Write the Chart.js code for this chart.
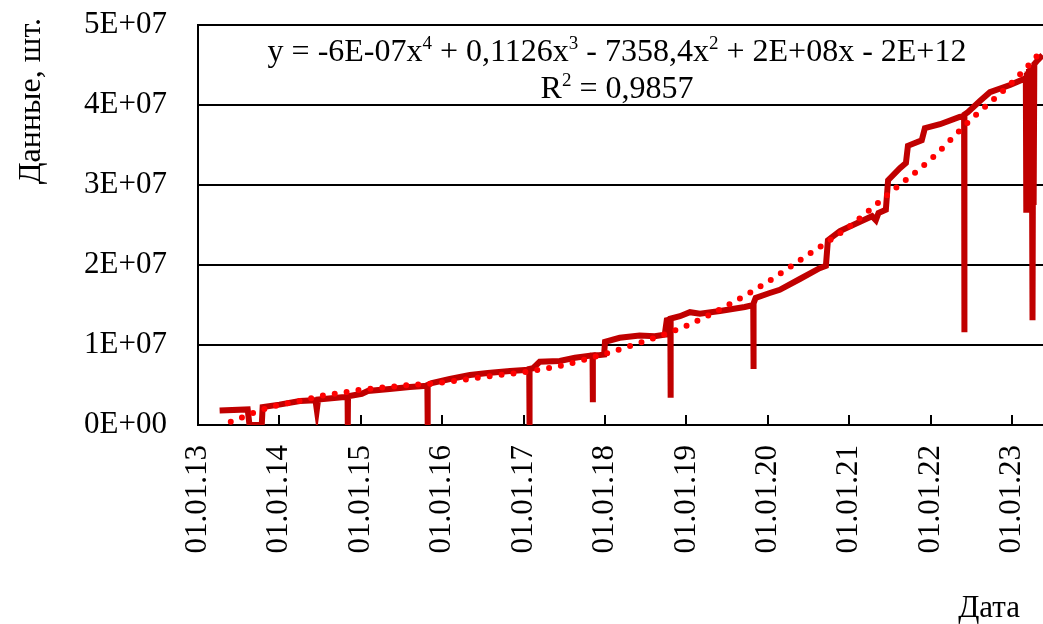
<!DOCTYPE html>
<html>
<head>
<meta charset="utf-8">
<script src="https://cdn.jsdelivr.net/npm/chart.js@4"></script>
<style>
html,body{margin:0;padding:0;background:#fff;}
#wrap{width:1043px;height:624px;position:relative;}
</style>
</head>
<body>
<div id="wrap"><canvas id="c" width="1043" height="624"></canvas></div>
<script>
// ---- data ----
const dates = [
 '2013-04-08','2013-08-12','2013-08-20','2013-10-14','2013-10-18','2014-01-01','2014-04-03','2014-06-12','2014-06-18','2014-06-24',
 '2014-10-21','2014-11-03','2014-11-04','2014-11-05','2015-01-06','2015-02-02','2015-05-11','2015-08-09','2015-10-27','2015-10-28',
 '2015-10-29','2015-11-16','2016-02-05','2016-05-05','2016-07-24','2016-11-01','2017-01-26','2017-01-27','2017-01-28','2017-02-12',
 '2017-03-14','2017-06-12','2017-08-19','2017-11-06','2017-11-07','2017-11-08','2017-12-09','2017-12-28','2018-01-01','2018-03-08',
 '2018-06-05','2018-08-12','2018-09-26','2018-10-05','2018-10-21','2018-10-22','2018-10-23','2018-12-03','2019-01-17','2019-03-03',
 '2019-06-01','2019-09-20','2019-10-28','2019-10-29','2019-10-30','2019-11-08','2020-01-10','2020-02-24','2020-05-24','2020-08-21',
 '2020-09-18','2020-09-27','2020-11-20','2021-02-18','2021-04-13','2021-04-30','2021-05-12','2021-06-14','2021-06-24','2021-08-16',
 '2021-09-12','2021-09-21','2021-11-22','2021-12-06','2022-02-12','2022-05-11','2022-05-31','2022-06-01','2022-06-02','2022-06-17',
 '2022-08-10','2022-09-24','2022-12-23','2023-02-23','2023-03-04','2023-03-06','2023-03-08','2023-03-10','2023-03-12','2023-03-15',
 '2023-03-18','2023-03-21','2023-03-24','2023-03-27','2023-03-30','2023-04-03','2023-04-06','2023-04-08','2023-04-11','2023-04-26',
 '2023-05-18'
];
const values = [
 1.80e6,1.95e6,0,0,2.25e6,2.55e6,3.00e6,3.10e6,1.90e6,3.20e6,
 3.50e6,3.55e6,0,3.60e6,3.90e6,4.25e6,4.50e6,4.75e6,4.90e6,0,
 5.00e6,5.25e6,5.75e6,6.25e6,6.50e6,6.75e6,6.90e6,0,7.00e6,7.10e6,
 7.90e6,8.00e6,8.40e6,8.70e6,2.85e6,8.70e6,8.75e6,8.80e6,10.40e6,10.90e6,
 11.20e6,11.10e6,11.30e6,13.10e6,13.20e6,3.40e6,13.30e6,13.60e6,14.10e6,13.90e6,
 14.25e6,14.75e6,15.00e6,7.00e6,15.20e6,15.90e6,16.50e6,16.90e6,18.25e6,19.60e6,
 19.90e6,23.10e6,24.25e6,25.40e6,26.10e6,25.60e6,26.50e6,26.90e6,30.60e6,32.10e6,
 32.75e6,34.90e6,35.60e6,37.10e6,37.60e6,38.50e6,38.60e6,11.60e6,38.80e6,39.10e6,
 40.50e6,41.60e6,42.50e6,43.25e6,43.40e6,26.90e6,44.00e6,26.90e6,44.20e6,26.90e6,
 44.50e6,26.90e6,44.70e6,26.90e6,44.90e6,13.10e6,45.00e6,27.50e6,45.10e6,45.60e6,
 46.25e6
];
const trendDates = [
 '2013-05-28','2013-07-22','2013-09-04','2013-10-25','2014-01-01','2014-04-01','2014-07-01','2014-10-01','2015-01-01','2015-07-01',
 '2016-01-01','2016-07-01','2017-01-01','2017-07-01','2018-01-01','2018-07-01','2019-01-01','2019-07-01','2020-01-01','2020-07-01',
 '2021-01-01','2021-07-01','2022-01-01','2022-07-01','2023-01-01','2023-05-19'
];
const trendValues = [
 0.4e6,1.0e6,1.5e6,2.0e6,2.5e6,3.0e6,3.6e6,4.0e6,4.4e6,4.9e6,
 5.3e6,6.0e6,6.6e6,7.5e6,8.9e6,10.5e6,12.4e6,14.9e6,17.9e6,21.3e6,
 24.8e6,29.0e6,33.2e6,38.2e6,42.8e6,46.9e6
];
const xTickDates = ['2013-01-01','2014-01-01','2015-01-01','2016-01-01','2017-01-01','2018-01-01',
                    '2019-01-01','2020-01-01','2021-01-01','2022-01-01','2023-01-01'];
const xMin = '2013-01-01', xMax = '2023-05-20';
const yTicks = [0, 1e7, 2e7, 3e7, 4e7, 5e7];
const yTitle = 'Данные, шт.';
const xTitle = 'Дата';
const eqParts = [['y = -6E-07x',false],['4',true],[' + 0,1126x',false],['3',true],[' - 7358,4x',false],['2',true],[' + 2E+08x - 2E+12',false]];
const r2Parts = [['R',false],['2',true],[' = 0,9857',false]];

// ---- helpers ----
const ts = d => Date.parse(d + 'T00:00:00Z');
const FONT = '"Liberation Serif","Times New Roman",serif';
function fmtY(v){
  if (v === 0) return '0E+00';
  const e = Math.floor(Math.log10(v));
  const m = Math.round(v / Math.pow(10, e));
  return m + 'E+' + String(e).padStart(2,'0');
}
function fmtX(v){
  const d = new Date(v);
  const dd = String(d.getUTCDate()).padStart(2,'0');
  const mm = String(d.getUTCMonth()+1).padStart(2,'0');
  const yy = String(d.getUTCFullYear()).slice(2);
  return dd + '.' + mm + '.' + yy;
}
function drawParts(ctx, parts, cx, baseline, size){
  const small = Math.round(size*0.6);
  let w = 0;
  parts.forEach(([t,sup]) => { ctx.font = (sup?small:size)+'px '+FONT; w += ctx.measureText(t).width; });
  let x = cx - w/2;
  ctx.textAlign = 'left'; ctx.textBaseline = 'alphabetic';
  parts.forEach(([t,sup]) => {
    ctx.font = (sup?small:size)+'px '+FONT;
    ctx.fillText(t, x, sup ? baseline - size*0.36 : baseline);
    x += ctx.measureText(t).width;
  });
}

const decor = {
  id:'decor',
  afterDraw(chart){
    const ctx = chart.ctx, xs = chart.scales.x, area = chart.chartArea;
    ctx.save();
    ctx.strokeStyle = '#000'; ctx.lineWidth = 2;
    xTickDates.forEach(d => {
      const px = Math.round(xs.getPixelForValue(ts(d)));
      if (px <= area.left + 1) return;
      ctx.beginPath(); ctx.moveTo(px, area.bottom); ctx.lineTo(px, area.bottom - 10); ctx.stroke();
    });
    ctx.fillStyle = '#000';
    drawParts(ctx, eqParts, 617, 61, 32);
    drawParts(ctx, r2Parts, 617, 98, 32);
    ctx.font = '32px ' + FONT;
    ctx.save();
    ctx.translate(40, 18);
    ctx.rotate(-Math.PI/2);
    ctx.textAlign = 'right'; ctx.textBaseline = 'alphabetic';
    ctx.fillText(yTitle, 0, 0);
    ctx.restore();
    ctx.font = '31px ' + FONT;
    ctx.textAlign = 'right'; ctx.textBaseline = 'alphabetic';
    ctx.fillText(xTitle, 1020, 617);
    ctx.restore();
  }
};

new Chart(document.getElementById('c'), {
  type: 'line',
  data: {
    datasets: [
      {
        label: 'trend',
        data: trendDates.map((d,i) => ({x: ts(d), y: trendValues[i]})),
        borderColor: '#FF0000',
        borderWidth: 6,
        borderDash: [0, 12],
        borderCapStyle: 'round',
        pointRadius: 0,
        cubicInterpolationMode: 'monotone',
        fill: false
      },
      {
        label: 'data',
        data: dates.map((d,i) => ({x: ts(d), y: values[i]})),
        borderColor: '#C00000',
        borderWidth: 6,
        borderJoinStyle: 'miter',
        pointRadius: 0,
        tension: 0,
        fill: false
      }
    ]
  },
  options: {
    responsive: false,
    animation: false,
    devicePixelRatio: 1,
    layout: { padding: { top: 25, right: 0, left: 0, bottom: 0 } },
    plugins: { legend: { display: false }, tooltip: { enabled: false } },
    scales: {
      x: {
        type: 'linear',
        min: ts(xMin), max: ts(xMax),
        afterBuildTicks: s => { s.ticks = xTickDates.map(d => ({value: ts(d)})); },
        afterFit: s => { s.height = 199; s.paddingLeft = 0; s.paddingRight = 0; s.paddingTop = 0; s.paddingBottom = 0; },
        grid: { display: false },
        border: { display: true, color: '#000', width: 2 },
        ticks: {
          autoSkip: false, maxRotation: 90, minRotation: 90, padding: 12,
          color: '#000', font: { family: FONT, size: 31 },
          callback: v => fmtX(v)
        }
      },
      y: {
        min: 0, max: 5e7,
        afterBuildTicks: s => { s.ticks = yTicks.map(v => ({value: v})); },
        afterFit: s => { s.width = 198; s.paddingTop = 0; s.paddingBottom = 0; s.paddingLeft = 0; s.paddingRight = 0; },
        grid: { color: '#000', lineWidth: 2, drawTicks: false },
        border: { display: true, color: '#000', width: 2 },
        ticks: {
          padding: 31, color: '#000', font: { family: FONT, size: 31 },
          callback: v => fmtY(v)
        }
      }
    }
  },
  plugins: [decor]
});
</script>
</body>
</html>
